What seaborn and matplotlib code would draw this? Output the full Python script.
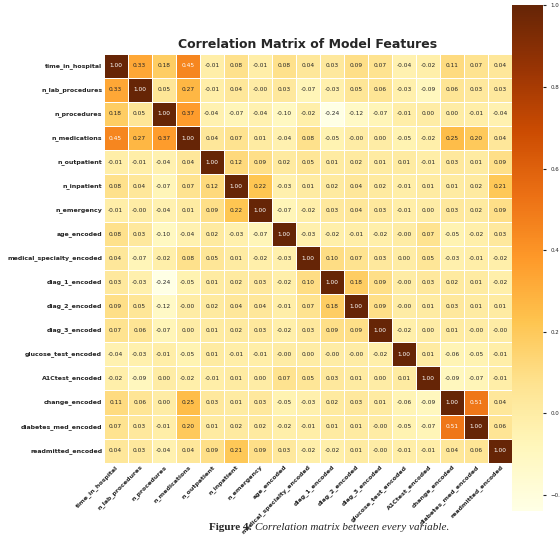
import numpy as np
import matplotlib
matplotlib.use('Agg')
import matplotlib.pyplot as plt
import seaborn as sns

features = ['time_in_hospital', 'n_lab_procedures', 'n_procedures', 'n_medications',
            'n_outpatient', 'n_inpatient', 'n_emergency', 'age_encoded',
            'medical_specialty_encoded', 'diag_1_encoded', 'diag_2_encoded', 'diag_3_encoded',
            'glucose_test_encoded', 'A1Ctest_encoded', 'change_encoded',
            'diabetes_med_encoded', 'readmitted_encoded']

corr = np.array([
    [1.00, 0.33, 0.18, 0.45, -0.01, 0.08, -0.01, 0.08, 0.04, 0.03, 0.09, 0.07, -0.04, -0.02, 0.11, 0.07, 0.04],
    [0.33, 1.00, 0.05, 0.27, -0.01, 0.04, -0.00, 0.03, -0.07, -0.03, 0.05, 0.06, -0.03, -0.09, 0.06, 0.03, 0.03],
    [0.18, 0.05, 1.00, 0.37, -0.04, -0.07, -0.04, -0.10, -0.02, -0.24, -0.12, -0.07, -0.01, 0.00, 0.00, -0.01, -0.04],
    [0.45, 0.27, 0.37, 1.00, 0.04, 0.07, 0.01, -0.04, 0.08, -0.05, -0.00, 0.00, -0.05, -0.02, 0.25, 0.20, 0.04],
    [-0.01, -0.01, -0.04, 0.04, 1.00, 0.12, 0.09, 0.02, 0.05, 0.01, 0.02, 0.01, 0.01, -0.01, 0.03, 0.01, 0.09],
    [0.08, 0.04, -0.07, 0.07, 0.12, 1.00, 0.22, -0.03, 0.01, 0.02, 0.04, 0.02, -0.01, 0.01, 0.01, 0.02, 0.21],
    [-0.01, -0.00, -0.04, 0.01, 0.09, 0.22, 1.00, -0.07, -0.02, 0.03, 0.04, 0.03, -0.01, 0.00, 0.03, 0.02, 0.09],
    [0.08, 0.03, -0.10, -0.04, 0.02, -0.03, -0.07, 1.00, -0.03, -0.02, -0.01, -0.02, -0.00, 0.07, -0.05, -0.02, 0.03],
    [0.04, -0.07, -0.02, 0.08, 0.05, 0.01, -0.02, -0.03, 1.00, 0.10, 0.07, 0.03, 0.00, 0.05, -0.03, -0.01, -0.02],
    [0.03, -0.03, -0.24, -0.05, 0.01, 0.02, 0.03, -0.02, 0.10, 1.00, 0.18, 0.09, -0.00, 0.03, 0.02, 0.01, -0.02],
    [0.09, 0.05, -0.12, -0.00, 0.02, 0.04, 0.04, -0.01, 0.07, 0.18, 1.00, 0.09, -0.00, 0.01, 0.03, 0.01, 0.01],
    [0.07, 0.06, -0.07, 0.00, 0.01, 0.02, 0.03, -0.02, 0.03, 0.09, 0.09, 1.00, -0.02, 0.00, 0.01, -0.00, -0.00],
    [-0.04, -0.03, -0.01, -0.05, 0.01, -0.01, -0.01, -0.00, 0.00, -0.00, -0.00, -0.02, 1.00, 0.01, -0.06, -0.05, -0.01],
    [-0.02, -0.09, 0.00, -0.02, -0.01, 0.01, 0.00, 0.07, 0.05, 0.03, 0.01, 0.00, 0.01, 1.00, -0.09, -0.07, -0.01],
    [0.11, 0.06, 0.00, 0.25, 0.03, 0.01, 0.03, -0.05, -0.03, 0.02, 0.03, 0.01, -0.06, -0.09, 1.00, 0.51, 0.04],
    [0.07, 0.03, -0.01, 0.20, 0.01, 0.02, 0.02, -0.02, -0.01, 0.01, 0.01, -0.00, -0.05, -0.07, 0.51, 1.00, 0.06],
    [0.04, 0.03, -0.04, 0.04, 0.09, 0.21, 0.09, 0.03, -0.02, -0.02, 0.01, -0.00, -0.01, -0.01, 0.04, 0.06, 1.00],
])

sns.set_style('white')
fig = plt.figure(figsize=(5.6, 5.38), dpi=100)
ax = fig.add_axes([0.185, 0.14, 0.73, 0.76])
cax = fig.add_axes([0.915, 0.05, 0.055, 0.94])

sns.heatmap(corr, ax=ax, cbar_ax=cax, cmap='YlOrBr', annot=True, fmt='.2f',
            annot_kws={'size': 4.2}, linewidths=0.4, linecolor='white', square=True,
            xticklabels=features, yticklabels=features)

ax.set_title('Correlation Matrix of Model Features', fontsize=9, fontweight='bold', pad=4)
ax.tick_params(axis='both', length=0, pad=1)
ax.set_xticklabels(features, rotation=45, ha='right', rotation_mode='anchor', fontsize=4.5, fontweight='bold')
ax.set_yticklabels(features, rotation=0, fontsize=4.5, fontweight='bold')
cax.tick_params(labelsize=4, length=2)

fig.text(0.45, 0.015, 'Figure 4:', ha='right', fontsize=8, family='Liberation Serif', fontweight='bold')
fig.text(0.455, 0.015, 'Correlation matrix between every variable.', ha='left', fontsize=8,
         family='Liberation Serif', style='italic')

fig.savefig('out.png', dpi=100)
